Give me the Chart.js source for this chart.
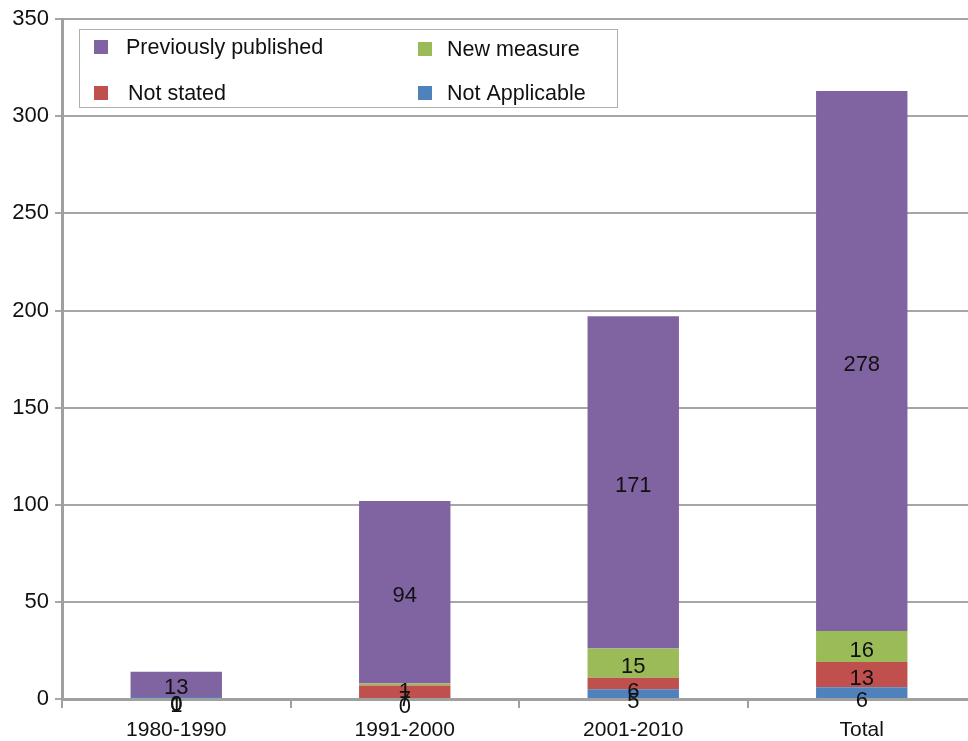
<!DOCTYPE html>
<html>
<head>
<meta charset="utf-8">
<script src="https://cdn.jsdelivr.net/npm/chart.js@4"></script>
<style>
  html, body { margin: 0; padding: 0; background: #fff; overflow: hidden; }
  #wrap { position: relative; width: 980px; height: 741px; }
</style>
</head>
<body>
<div id="wrap"><canvas id="c"></canvas></div>
<script>
// Measures by decade, stacked from the bottom up
const categories = ['1980-1990', '1991-2000', '2001-2010', 'Total'];
const notApplicable = [1, 0, 5, 6];
const notStated = [0, 7, 6, 13];
const newMeasure = [0, 1, 15, 16];
const previouslyPublished = [13, 94, 171, 278];
const yTicks = [0, 50, 100, 150, 200, 250, 300, 350];

const FONT = '"Liberation Sans", Arial, Helvetica, sans-serif';
const GRID = '#a6a6a6';
const AXIS = '#a0a0a0';

// Value labels in the middle of every segment
const segmentLabels = {
  id: 'segmentLabels',
  afterDatasetsDraw(chart) {
    const ctx = chart.ctx;
    ctx.save();
    ctx.font = '22px ' + FONT;
    ctx.fillStyle = '#111';
    ctx.textAlign = 'center';
    ctx.textBaseline = 'middle';
    chart.data.datasets.forEach((ds, i) => {
      chart.getDatasetMeta(i).data.forEach((bar, j) => {
        const p = bar.getProps(['x', 'y', 'base'], true);
        const h = p.base - p.y;
        const dy = h < 20 ? 8 : 4;
        ctx.fillText(String(ds.data[j]), p.x, (p.y + p.base) / 2 + dy);
      });
    });
    ctx.restore();
  }
};

// Boxed two-column legend drawn inside the plot
const boxLegend = {
  id: 'boxLegend',
  afterDraw(chart) {
    const ctx = chart.ctx;
    const items = [
      { label: 'Previously published', color: '#8064A2', mx: 94, tx: 126, y: 48 },
      { label: 'New measure', color: '#9BBB59', mx: 418, tx: 447, y: 50 },
      { label: 'Not stated', color: '#C0504D', mx: 94, tx: 128, y: 94 },
      { label: 'Not Applicable', color: '#4F81BD', mx: 418, tx: 447, y: 94 }
    ];
    ctx.save();
    ctx.fillStyle = '#fff';
    ctx.fillRect(79, 29, 538, 78);
    ctx.strokeStyle = '#b0b0b0';
    ctx.lineWidth = 1;
    ctx.strokeRect(79.5, 29.5, 538, 78);
    ctx.font = '21.5px ' + FONT;
    ctx.textBaseline = 'middle';
    ctx.textAlign = 'left';
    items.forEach(it => {
      ctx.fillStyle = it.color;
      ctx.fillRect(it.mx, it.y - 8, 14, 14);
      ctx.fillStyle = '#111';
      ctx.fillText(it.label, it.tx, it.y);
    });
    ctx.restore();
  }
};

const mk = (label, data, color) => ({
  label, data, backgroundColor: color, borderWidth: 0,
  barPercentage: 0.8, categoryPercentage: 0.5
});

new Chart(document.getElementById('c'), {
  type: 'bar',
  data: {
    labels: categories,
    datasets: [
      mk('Not Applicable', notApplicable, '#4F81BD'),
      mk('Not stated', notStated, '#C0504D'),
      mk('New measure', newMeasure, '#9BBB59'),
      mk('Previously published', previouslyPublished, '#8064A2')
    ]
  },
  options: {
    responsive: true,
    maintainAspectRatio: false,
    animation: false,
    layout: { padding: { top: 9, right: 4, left: 0, bottom: 0 } },
    plugins: { legend: { display: false }, tooltip: { enabled: false } },
    scales: {
      x: {
        stacked: true,
        grid: { display: true, drawOnChartArea: false, drawTicks: true, tickLength: 9, color: AXIS, lineWidth: 2, offset: true },
        border: { display: true, color: AXIS, width: 3 },
        ticks: { color: '#111', font: { family: FONT, size: 21 }, padding: 10, maxRotation: 0 },
        afterFit(s) { s.height = 42; }
      },
      y: {
        stacked: true,
        min: 0, max: 350,
        afterBuildTicks(s) { s.ticks = yTicks.map(v => ({ value: v })); },
        grid: { color: GRID, lineWidth: 2, drawTicks: true, tickLength: 7 },
        border: { display: true, color: AXIS, width: 3 },
        ticks: { color: '#111', font: { family: FONT, size: 22 }, padding: 6 },
        afterFit(s) { s.width = 62; }
      }
    }
  },
  plugins: [segmentLabels, boxLegend]
});
</script>
</body>
</html>
